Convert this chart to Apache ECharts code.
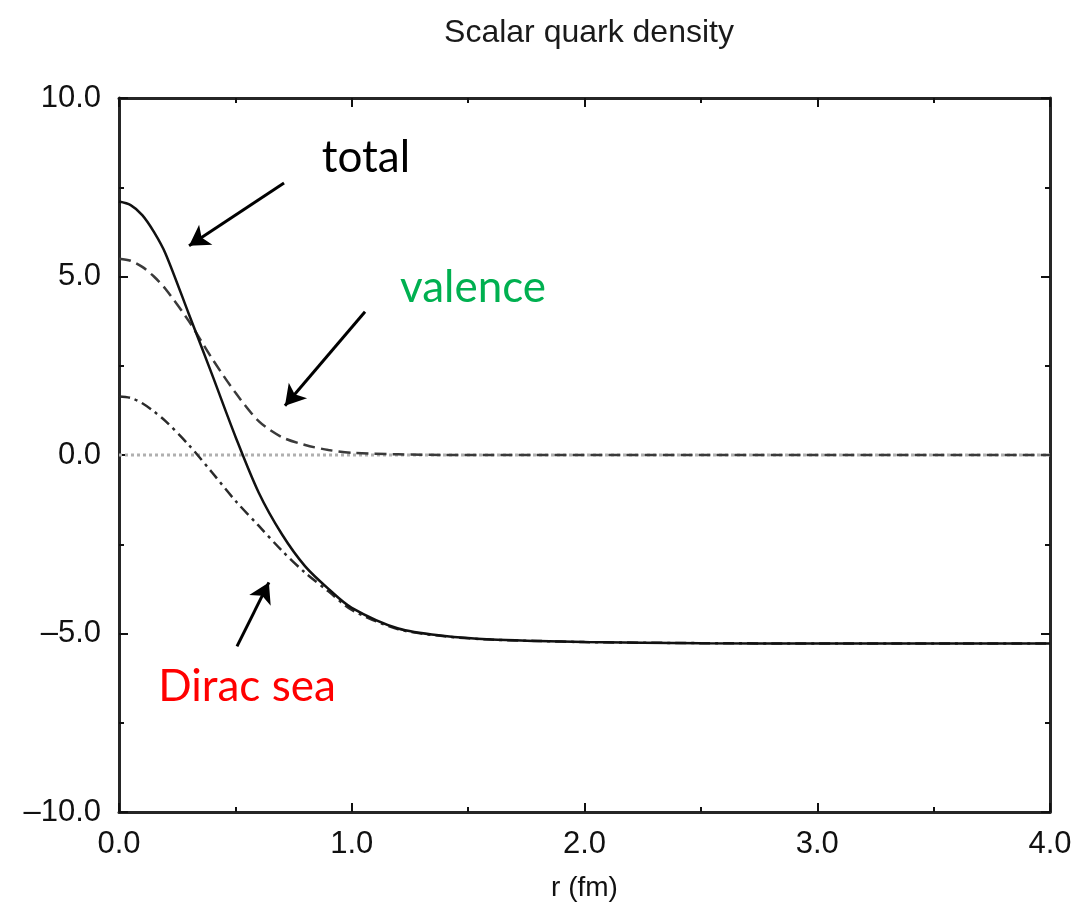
<!DOCTYPE html>
<html>
<head>
<meta charset="utf-8">
<title>Scalar quark density</title>
<script src="https://cdn.jsdelivr.net/npm/echarts@6/dist/echarts.min.js"></script>
<style>
  html, body { margin: 0; padding: 0; background: #fff; }
  #chart { width: 1076px; height: 907px; }
</style>
</head>
<body>
<div id="chart"></div>
<script>
// Radial coordinate r (fm)
const rValues = [0, 0.05, 0.1, 0.15, 0.2, 0.3, 0.4, 0.5, 0.6, 0.7, 0.8, 0.9, 1.0, 1.2, 1.4, 1.6, 1.8, 2.0, 2.5, 3.0, 3.5, 4.0];

// Scalar quark density contributions
const totalDensity   = [7.10, 7.00, 6.72, 6.25, 5.64, 3.95, 2.25, 0.52, -1.05, -2.22, -3.12, -3.75, -4.28, -4.86, -5.07, -5.17, -5.21, -5.24, -5.27, -5.28, -5.28, -5.28];
const valenceDensity = [5.50, 5.44, 5.27, 5.00, 4.65, 3.75, 2.70, 1.75, 0.95, 0.50, 0.28, 0.14, 0.06, 0.02, 0.00, 0.00, 0.00, 0.00, 0.00, 0.00, 0.00, 0.00];
const seaDensity     = [1.64, 1.60, 1.45, 1.22, 0.95, 0.28, -0.49, -1.28, -1.98, -2.68, -3.30, -3.82, -4.34, -4.88, -5.08, -5.17, -5.21, -5.24, -5.27, -5.28, -5.28, -5.28];

// Axis ticks
const xTicks = [0, 1, 2, 3, 4];
const yTicks = [-10, -5, 0, 5, 10];

// Annotation labels: [text, r, density, colour]
const labelTotal   = ['total', 1.061, 8.32, '#000000'];
const labelValence = ['valence', 1.521, 4.69, '#00B050'];
const labelSea     = ['Dirac sea', 0.55, -6.50, '#FF0000'];

// Annotation arrows: [[r0, y0], [r1, y1]] (tail -> head)
const arrowTotal   = [[0.709, 7.62], [0.301, 5.86]];
const arrowValence = [[1.057, 4.01], [0.713, 1.38]];
const arrowSea     = [[0.507, -5.36], [0.644, -3.57]];

const pair = (xs, ys) => xs.map((x, i) => [x, ys[i]]);
const fmtY = v => (v < 0 ? '\u2013' : '') + Math.abs(v).toFixed(1);

const frame = { show: true, onZero: false, lineStyle: { color: '#262626', width: 3 } };
const tickStyle = { lineStyle: { color: '#111', width: 2 } };
const labelFont = 'Liberation Sans, Arial, sans-serif';

function xAxisCfg(position, showLabel) {
  return {
    type: 'value', position: position,
    min: xTicks[0], max: xTicks[xTicks.length - 1], interval: 1,
    axisLine: frame,
    axisTick: Object.assign({ show: true, inside: true, length: 9 }, tickStyle),
    minorTick: Object.assign({ show: true, splitNumber: 2, length: 5 }, tickStyle),
    splitLine: { show: false },
    axisLabel: {
      show: showLabel, margin: 17, color: '#111',
      fontFamily: labelFont, fontSize: 31,
      formatter: v => v.toFixed(1)
    },
    name: showLabel ? 'r (fm)' : '',
    nameLocation: 'middle', nameGap: 62,
    nameTextStyle: { color: '#111', fontFamily: labelFont, fontSize: 28 }
  };
}

function yAxisCfg(position, showLabel) {
  return {
    type: 'value', position: position,
    min: yTicks[0], max: yTicks[yTicks.length - 1], interval: 5,
    axisLine: frame,
    axisTick: Object.assign({ show: true, inside: true, length: 9 }, tickStyle),
    minorTick: Object.assign({ show: true, splitNumber: 2, length: 5 }, tickStyle),
    splitLine: { show: false },
    axisLabel: {
      show: showLabel, margin: 18, color: '#111',
      fontFamily: labelFont, fontSize: 31,
      formatter: fmtY
    }
  };
}

function arrowLine(a) {
  return [{ coord: a[0] }, { coord: a[1] }];
}
function textPoint(l) {
  return {
    coord: [l[1], l[2]], symbol: 'circle', symbolSize: 1,
    itemStyle: { color: 'rgba(0,0,0,0)' },
    label: {
      show: true, position: 'inside', formatter: l[0], color: l[3],
      fontFamily: 'Lato, Noto Sans, sans-serif', fontSize: 44
    }
  };
}

function curve(name, ys, style, z) {
  return {
    name: name, type: 'line', symbol: 'none', z: z,
    smooth: 0.3,
    data: pair(rValues, ys),
    lineStyle: style
  };
}

const chart = echarts.init(document.getElementById('chart'), null, { renderer: 'canvas' });

chart.setOption({
  animation: false,
  backgroundColor: '#ffffff',
  title: {
    text: 'Scalar quark density',
    left: 584, top: 12, textAlign: 'center',
    textStyle: { color: '#1a1a1a', fontWeight: 'normal', fontFamily: labelFont, fontSize: 32 }
  },
  grid: { left: 119, top: 98, right: 26, bottom: 94, containLabel: false },
  xAxis: [xAxisCfg('bottom', true), xAxisCfg('top', false)],
  yAxis: [yAxisCfg('left', true), yAxisCfg('right', false)],
  series: [
    {
      name: 'zero',
      type: 'line', symbol: 'none', silent: true, z: 1,
      data: [[xTicks[0], 0], [xTicks[xTicks.length - 1], 0]],
      lineStyle: { color: '#b0b0b0', width: 3, type: [3, 3] }
    },
    curve('valence', valenceDensity, { color: '#3a3a3a', width: 2.5, type: [12, 6] }, 2),
    curve('Dirac sea', seaDensity, { color: '#2a2a2a', width: 2.5, type: [11, 5, 3, 5] }, 3),
    curve('total', totalDensity, { color: '#111111', width: 2.5, type: 'solid' }, 4),
    {
      name: 'annotations',
      type: 'line', data: [], silent: true, z: 5,
      markLine: {
        silent: true, animation: false,
        symbol: ['none', 'arrow'], symbolSize: [18, 20],
        lineStyle: { color: '#000', width: 3, type: 'solid' },
        label: { show: false },
        data: [arrowLine(arrowTotal), arrowLine(arrowValence), arrowLine(arrowSea)]
      },
      markPoint: {
        silent: true, animation: false,
        data: [textPoint(labelTotal), textPoint(labelValence), textPoint(labelSea)]
      }
    }
  ]
});
</script>
</body>
</html>
